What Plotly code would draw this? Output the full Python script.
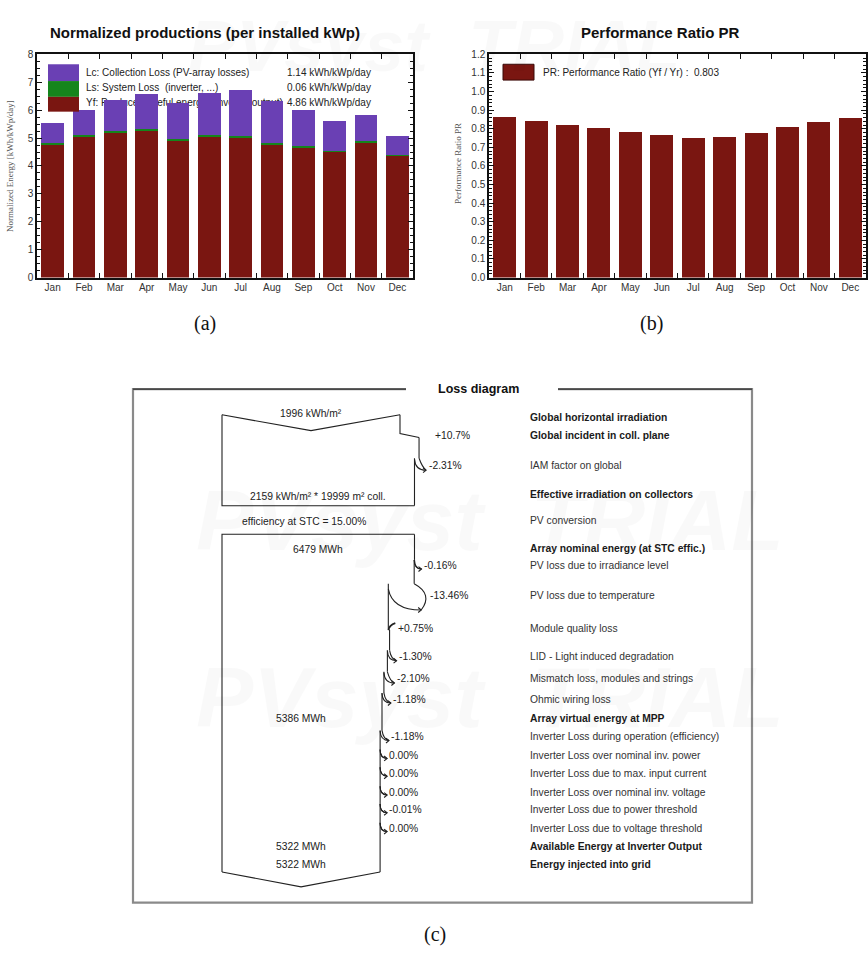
import plotly.graph_objects as go

W, H = 868, 961

# ---------------- data: normalized productions ----------------
months = ["Jan", "Feb", "Mar", "Apr", "May", "Jun", "Jul", "Aug", "Sep", "Oct", "Nov", "Dec"]
yf = [4.76, 5.06, 5.19, 5.25, 4.90, 5.04, 5.00, 4.76, 4.65, 4.50, 4.83, 4.35]
ls = [0.05, 0.06, 0.06, 0.06, 0.06, 0.06, 0.06, 0.06, 0.06, 0.05, 0.05, 0.05]
lc = [0.74, 0.90, 1.11, 1.26, 1.29, 1.53, 1.65, 1.50, 1.28, 1.05, 0.94, 0.68]
legend_a_names = ["Lc: Collection Loss (PV-array losses)",
                  "Ls: System Loss  (inverter, ...)",
                  "Yf: Produced useful energy  (inverter output)"]
legend_a_avg = [1.14, 0.06, 4.86]

# ---------------- data: performance ratio ----------------
pr = [0.863, 0.844, 0.821, 0.805, 0.785, 0.766, 0.748, 0.757, 0.778, 0.808, 0.839, 0.860]
pr_avg = 0.803

# ---------------- data: loss diagram ----------------
ghi_kwh_m2 = 1996
incident_gain_pct = 10.7
iam_pct = -2.31
eff_irr_kwh_m2 = 2159
coll_area_m2 = 19999
stc_eff_pct = 15.00
array_nominal_mwh = 6479
array_loss_pct = [-0.16, -13.46, 0.75, -1.30, -2.10, -1.18]
array_mpp_mwh = 5386
inverter_loss_pct = [-1.18, 0.00, 0.00, 0.00, -0.01, 0.00]
inverter_out_mwh = 5322
grid_mwh = 5322
loss_labels = ["Global horizontal irradiation", "Global incident in coll. plane", "IAM factor on global",
               "Effective irradiation on collectors", "PV conversion", "Array nominal energy (at STC effic.)",
               "PV loss due to irradiance level", "PV loss due to temperature", "Module quality loss",
               "LID - Light induced degradation", "Mismatch loss, modules and strings", "Ohmic wiring loss",
               "Array virtual energy at MPP", "Inverter Loss during operation (efficiency)",
               "Inverter Loss over nominal inv. power", "Inverter Loss due to max. input current",
               "Inverter Loss over nominal inv. voltage", "Inverter Loss due to power threshold",
               "Inverter Loss due to voltage threshold", "Available Energy at Inverter Output",
               "Energy injected into grid"]

# ---------------- layout constants ----------------
RED = "#7a1611"
PURPLE = "#6a40b4"
GREEN = "#15851c"
FONT = "Liberation Sans, Arial, sans-serif"
SERIF = "Liberation Serif, Times New Roman, serif"
DFS = 10.3  # loss diagram font size


def px(x):
    return x / W


def py(y):
    return 1 - y / H


A_X = (37, 413)
B_X = (489, 866)
P_Y = (49, 275)
ydom = [py(P_Y[1]), py(P_Y[0])]

bold_rows = {0, 1, 3, 5, 12, 19, 20}
row_y = [417, 435, 465, 495, 521, 549, 567, 597, 630, 659, 681, 702, 721, 740, 759, 777, 796, 814, 833, 851, 869]
L = 222
W_GHI = 178
TOP1, APEX1, BOT1 = 414, 430, 506
TOP2, BOT2, APEX2 = 535, 877, 892
LABEL_X = 528
FR_L, FR_R, FR_T, FR_B = 133, 752, 388, 908
TITLE_X = 478

fig = go.Figure()

# legend text of (a), drawn in base subplot so the bars overlay it
leg_y = [68, 84, 99]
leg_ys = [(P_Y[1] - v) / (P_Y[1] - P_Y[0]) for v in leg_y]
fig.add_trace(go.Scatter(
    x=[(86 - A_X[0]) / (A_X[1] - A_X[0])] * 3, y=leg_ys,
    mode="text", text=legend_a_names, textposition="middle right",
    textfont=dict(family=FONT, size=10, color="#222"), hoverinfo="skip", showlegend=False,
    xaxis="x", yaxis="y", cliponaxis=False))
fig.add_trace(go.Scatter(
    x=[(287 - A_X[0]) / (A_X[1] - A_X[0])] * 3, y=leg_ys,
    mode="text", text=[f"{v:.2f} kWh/kWp/day" for v in legend_a_avg], textposition="middle right",
    textfont=dict(family=FONT, size=10, color="#222"), hoverinfo="skip", showlegend=False,
    xaxis="x", yaxis="y", cliponaxis=False))

# stacked bars (a)
for vals, col in [(yf, RED), (ls, GREEN), (lc, PURPLE)]:
    fig.add_trace(go.Bar(x=months, y=vals, marker=dict(color=col, line=dict(width=0)),
                         xaxis="x4", yaxis="y4", showlegend=False, hoverinfo="y"))

# PR bars (b)
fig.add_trace(go.Bar(x=months, y=pr, marker=dict(color=RED, line=dict(width=0)),
                     xaxis="x2", yaxis="y2", showlegend=False))

# dummy for loss subplot
fig.add_trace(go.Scatter(x=[0], y=[0], mode="markers", marker=dict(opacity=0), xaxis="x3", yaxis="y3",
                         showlegend=False, hoverinfo="skip"))

shapes = []
ann = []


def line_path(p, width=1.1, color="#222"):
    shapes.append(dict(type="path", path=p, xref="x3", yref="y3", line=dict(color=color, width=width)))


def fmt(v, nd=2):
    if v == 0:
        return f"{0:.{nd}f}%"
    return f"{v:+.{nd}f}%"


def txt(x, y, s, size=DFS, bold=False, anchor="left", color="#222", family=FONT):
    ann.append(dict(x=x, y=y, xref="x3", yref="y3", text=s, showarrow=False, xanchor=anchor,
                    yanchor="middle", font=dict(family=family, size=size, color=color,
                                               weight="bold" if bold else "normal")))


def right_edge(cx, seg_start, events, y_end):
    """events: list of (y, pct, text, kind); returns final x"""
    for (y, pct, label, kind) in events:
        xn = L + (cx - L) * (1 + pct / 100.0)
        d = cx - xn
        if kind == "step":
            line_path(f"M {cx},{seg_start} L {cx},{y - 2} L {xn},{y + 2}")
            txt(xn + 14, y, label)
            seg_start = y + 2
        elif d >= 0:
            ys = y - 6 - 0.23 * d
            tx, ty = cx + 7, y + 3 + 0.45 * d
            line_path(f"M {cx},{seg_start} L {cx},{ys}")
            line_path(f"M {cx},{ys} Q {cx + 0.74 * d},{ty - 0.62 * d} {tx},{ty}")
            line_path(f"M {xn},{ys + 0.2 * d} Q {xn + 0.15 * d},{ty} {tx},{ty}")
            line_path(f"M {tx - 3},{ty - 2.5} L {tx},{ty} L {tx - 3},{ty + 2.5}")
            txt(cx + 7 + 0.25 * d, y, label)
            seg_start = ys
        else:
            line_path(f"M {cx},{seg_start} L {cx},{y + 1}")
            line_path(f"M {cx + 7},{y - 5} Q {cx + 1},{y - 3} {cx},{y + 2}", width=1.8)
            line_path(f"M {cx},{y + 1} L {xn},{y + 2}")
            txt(cx + 8, y, label)
            seg_start = y + 2
        cx = xn
    line_path(f"M {cx},{seg_start} L {cx},{y_end}")
    return cx


# ---- top (irradiation) box
x0 = L + W_GHI
line_path(f"M {L},{TOP1} L {L + W_GHI / 2},{APEX1} L {x0},{TOP1}")
x2 = right_edge(x0, TOP1,
                [(row_y[1], incident_gain_pct, fmt(incident_gain_pct, 1), "step"),
                 (row_y[2], iam_pct, fmt(iam_pct), "loss")], BOT1)
line_path(f"M {L},{TOP1} L {L},{BOT1} L {x2},{BOT1}")
txt(L + W_GHI / 2, TOP1 - 1, f"{ghi_kwh_m2} kWh/m²", anchor="center")
txt((L + x2) / 2, row_y[3] + 2, f"{eff_irr_kwh_m2} kWh/m² * {coll_area_m2} m² coll.", anchor="center")
txt(304, row_y[4] + 1, f"efficiency at STC = {stc_eff_pct:.2f}%", anchor="center")

# ---- energy box
line_path(f"M {x2},{TOP2} L {L},{TOP2} L {L},{BOT2}")
events = []
for i, v in enumerate(array_loss_pct):
    events.append((row_y[6 + i], v, fmt(v), "loss"))
for i, v in enumerate(inverter_loss_pct):
    events.append((row_y[13 + i], v, fmt(v), "loss"))
xf = right_edge(x2, TOP2, events, BOT2)
line_path(f"M {L},{BOT2} L {(L + xf) / 2},{APEX2} L {xf},{BOT2}")
txt((L + x2) / 2, row_y[5] + 1, f"{array_nominal_mwh} MWh", anchor="center")
txt((L + xf) / 2, row_y[12], f"{array_mpp_mwh} MWh", anchor="center")
txt((L + xf) / 2, row_y[19], f"{inverter_out_mwh} MWh", anchor="center")
txt((L + xf) / 2, row_y[20], f"{grid_mwh} MWh", anchor="center")

for i, lab in enumerate(loss_labels):
    txt(LABEL_X, row_y[i], lab, bold=(i in bold_rows), color="#1a1a1a" if i in bold_rows else "#333")

# frame
FG = "#8a8a8a"
GAP = 42
line_path(f"M {TITLE_X - GAP - 30},{FR_T} L {FR_L},{FR_T} L {FR_L},{FR_B} L {FR_R},{FR_B} L {FR_R},{FR_T} "
          f"L {TITLE_X + GAP + 38},{FR_T}", width=2.2, color=FG)
line_path(f"M {TITLE_X - GAP - 30},{FR_T} L {FR_L},{FR_T}", width=1.2, color="#333")
line_path(f"M {TITLE_X + GAP + 38},{FR_T} L {FR_R},{FR_T}", width=1.2, color="#333")
txt(TITLE_X, FR_T, "Loss diagram", size=12.5, bold=True, anchor="center", color="#111")

# ---- watermarks
for (x, y, s, fs) in [(434, 40, "PVsyst  TRIAL", 72), (490, 520, "PVsyst  TRIAL", 86),
                      (490, 700, "PVsyst  TRIAL", 86)]:
    ann.insert(0, dict(x=px(x), y=py(y), xref="paper", yref="paper", text=s, showarrow=False,
                       font=dict(family=FONT, size=fs, color="rgba(0,0,0,0.022)", style="italic",
                                 weight="bold"), xanchor="center", yanchor="middle"))

# legend swatches (a)
for (y0, y1, col) in [(59, 76, PURPLE), (76, 92, GREEN), (92, 107, RED)]:
    shapes.append(dict(type="rect", xref="paper", yref="paper", x0=px(48), x1=px(79), y0=py(y1), y1=py(y0),
                       fillcolor=col, line=dict(width=0), layer="above"))
# legend (b)
shapes.append(dict(type="rect", xref="paper", yref="paper", x0=px(503), x1=px(534), y0=py(75), y1=py(59),
                   fillcolor=RED, line=dict(color="#3a0a08", width=1), layer="above"))
ann.append(dict(x=px(541), y=py(67), xref="paper", yref="paper", xanchor="left", yanchor="middle",
                text=f"PR: Performance Ratio (Yf / Yr) :  {pr_avg:.3f}", showarrow=False,
                font=dict(family=FONT, size=10, color="#222")))


def pann(x, y, s, size, family=FONT, color="#111", angle=0):
    ann.append(dict(x=px(x), y=py(y), xref="paper", yref="paper", text=s, showarrow=False,
                    xanchor="center", yanchor="middle", textangle=angle,
                    font=dict(family=family, size=size, color=color)))


# titles
pann(205, 27, "<b>Normalized productions (per installed kWp)</b>", 15)
pann(660, 27, "<b>Performance Ratio PR</b>", 15)
# y titles
pann(10, 162, "Normalized Energy [kWh/kWp/day]", 9, family=SERIF, color="#555", angle=-90)
pann(458, 160, "Performance Ratio PR", 9, family=SERIF, color="#555", angle=-90)
# sub labels
for (x, y, s) in [(205, 322, "(a)"), (651, 322, "(b)"), (435, 940, "(c)")]:
    pann(x, y, s, 20, family=SERIF)

axis_common = dict(showline=True, linecolor="#111", linewidth=1.5, mirror="ticks", ticks="inside",
                   tickcolor="#111", tickfont=dict(family=FONT, size=10, color="#333"), showgrid=False,
                   zeroline=False, fixedrange=True)

fig.update_layout(
    width=W, height=H, margin=dict(l=0, r=0, t=0, b=0), paper_bgcolor="white",
    plot_bgcolor="rgba(0,0,0,0)",
    barmode="stack", bargap=0.27, showlegend=False,
    xaxis=dict(domain=[px(A_X[0]), px(A_X[1])], range=[0, 1], visible=False, anchor="y", fixedrange=True),
    yaxis=dict(domain=ydom, range=[0, 1], visible=False, anchor="x", fixedrange=True),
    xaxis4=dict(overlaying="x", anchor="y4", type="category", tickson="boundaries", ticklen=5, **axis_common),
    yaxis4=dict(overlaying="y", anchor="x4", range=[0, 8], dtick=1, ticklen=5,
                minor=dict(ticks="inside", ticklen=3, dtick=0.25, tickcolor="#111"), **axis_common),
    xaxis2=dict(domain=[px(B_X[0]), px(B_X[1])], anchor="y2", type="category", tickson="boundaries",
                ticklen=5, **axis_common),
    yaxis2=dict(domain=ydom, anchor="x2", range=[0, 1.2], dtick=0.1, tickformat=".1f", ticklen=5,
                minor=dict(ticks="inside", ticklen=3, dtick=0.02, tickcolor="#111"), **axis_common),
    xaxis3=dict(domain=[0, 1], range=[0, W], visible=False, anchor="y3", fixedrange=True),
    yaxis3=dict(domain=[0, 1], range=[H, 0], visible=False, anchor="x3", fixedrange=True),
    shapes=shapes, annotations=ann,
)

fig.write_html("out.html", config={"displayModeBar": False},
               post_script="document.body.style.margin='0px';document.body.style.overflow='hidden';")
